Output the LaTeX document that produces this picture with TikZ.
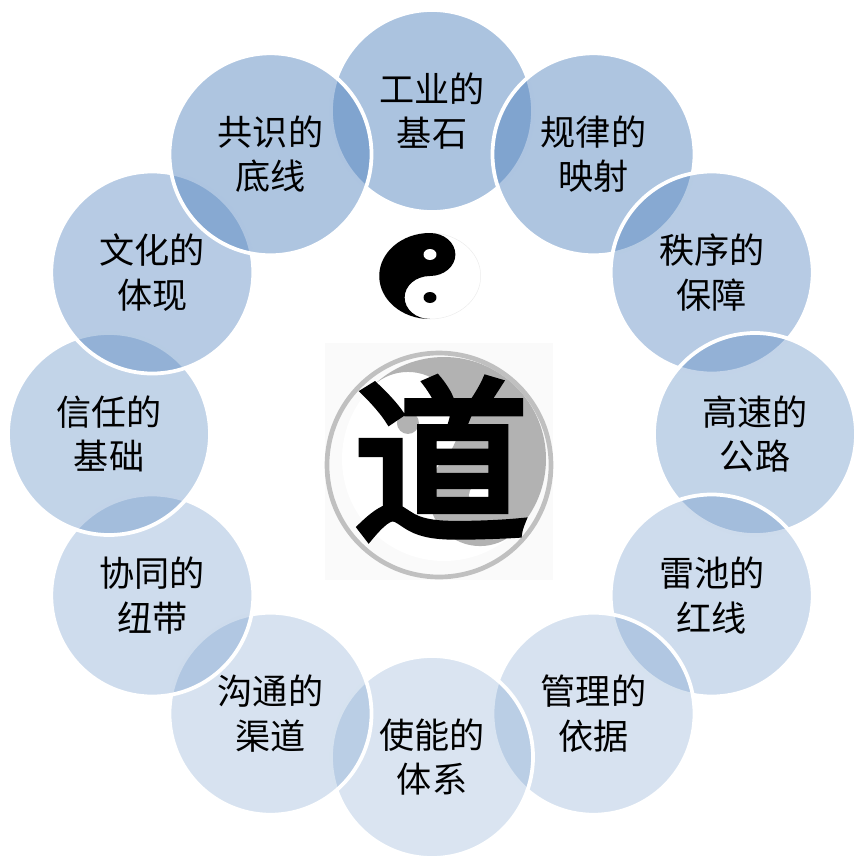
\documentclass[tikz,border=0pt]{standalone}
\usepackage{fontspec}
\newfontfamily\cjk{Noto Sans CJK SC}
\newfontfamily\daofont[FakeBold=4]{Noto Sans CJK SC}

\definecolor{ringblue}{RGB}{79,129,189}
\definecolor{taigray}{RGB}{178,178,178}
\definecolor{rimgray}{RGB}{192,192,192}

\tikzset{
  petal/.style={circle, inner sep=0pt, minimum size=6.06cm, fill=ringblue,
    draw=white, line width=3.2pt, text opacity=1, align=center,
    font=\cjk\fontsize{30}{38}\selectfont}
}

\begin{document}
\begin{tikzpicture}[x=0.03cm,y=-0.03cm]
\useasboundingbox (0,0) rectangle (859,861);

% twelve petals, clockwise from the top, fading towards the bottom
\foreach \txt [count=\i from 0] in {{工业的\\基石},{规律的\\映射},{秩序的\\保障},{高速的\\公路},{雷池的\\红线},{管理的\\依据},{使能的\\体系},{沟通的\\渠道},{协同的\\纽带},{信任的\\基础},{文化的\\体现},{共识的\\底线}}{
    \pgfmathsetmacro\op{0.21+0.135*(1+cos(30*\i))}
    \node[petal, fill opacity=\op] (p\i) at ({432+323*sin(30*\i)},{434-323*cos(30*\i)}) {\txt};
}

% small taiji
\begin{scope}[shift={(430,276)}, xscale=1.18, yscale=-1]
    \draw[black!8, line width=0.4pt] (0,0) circle[radius=43];
    \fill[black] (0,43) arc[start angle=90, end angle=270, radius=43]
        arc[start angle=270, end angle=90, radius=21.5]
        arc[start angle=270, end angle=450, radius=21.5] -- cycle;
    \fill[white] (0,21.5) circle[radius=5.5];
    \fill[black] (0,-21.5) circle[radius=5.5];
\end{scope}

% emblem with the big character
\fill[black!2] (325,343) rectangle (553,580);
\begin{scope}[shift={(444,459)}, rotate=-135, yscale=-1]
    \fill[white] (0,0) circle[radius=102];
    \fill[taigray] (0,102) arc[start angle=90, end angle=270, radius=102]
        arc[start angle=270, end angle=90, radius=51]
        arc[start angle=270, end angle=450, radius=51] -- cycle;
    \fill[taigray] (0,-51) circle[radius=11];
    \fill[white] (0,51) circle[radius=11];
\end{scope}
\draw[rimgray, line width=4pt] (439,465) circle[radius=112];
\node[font=\daofont\fontsize{150}{150}\selectfont, inner sep=0pt] (dao) at (441,458) {道};

\end{tikzpicture}
\end{document}
